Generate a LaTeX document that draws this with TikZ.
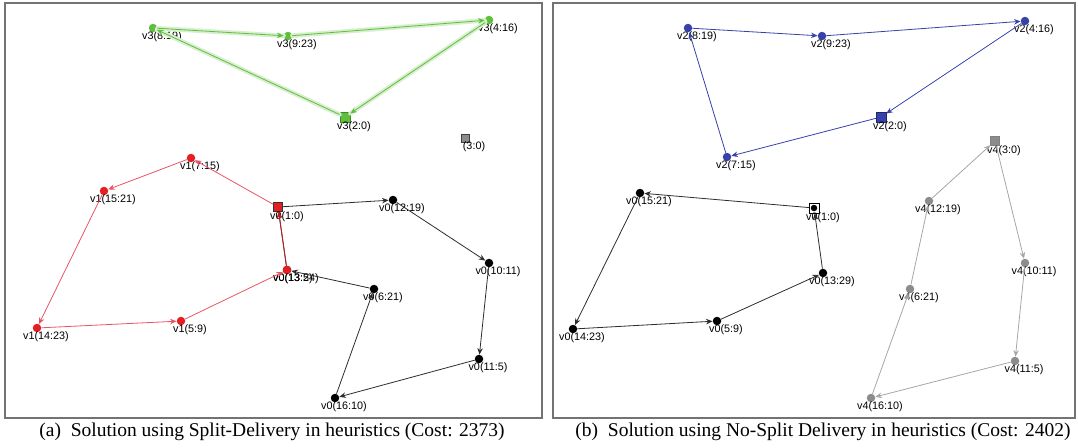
\documentclass[tikz,border=0pt]{standalone}
\usepackage{fontspec}
\setmainfont{Liberation Serif}
\newfontfamily\lblfont{Liberation Sans}
\usetikzlibrary{arrows.meta}

\definecolor{routegreen}{RGB}{95,190,60}
\definecolor{routered}{RGB}{228,30,35}
\definecolor{routepink}{RGB}{232,85,100}
\definecolor{routeblue}{RGB}{55,65,170}
\definecolor{routegray}{RGB}{140,140,140}
\definecolor{routedark}{RGB}{45,45,45}

\tikzstyle{cust} = [circle, fill, inner sep=0pt, minimum size=8.5pt]
\tikzstyle{depot} = [rectangle, draw, inner sep=0pt, minimum size=9pt]
\tikzstyle{lbl} = [font=\lblfont\fontsize{10.8}{12}\selectfont, text=black, inner sep=1pt, xshift=9pt]
\tikzstyle{line} = [-{Stealth[length=6.5pt,width=5.5pt]}, line width=0.8pt]
\tikzstyle{halo} = [draw=routegreen!25, line width=4.5pt, line cap=round]
\tikzstyle{frame} = [draw=black!55, line width=1.2pt]
\tikzstyle{caption} = [font=\fontsize{19.5}{22}\selectfont]

\begin{document}
\begin{tikzpicture}[x=1pt, y=-1pt, label distance=-1.5pt, every label/.style={lbl}]

    \useasboundingbox (0,0) rectangle (1078,447);

    % panels
    \draw[frame] (5,3) rectangle (542,418);
    \draw[frame] (553,3) rectangle (1075,418);

    %%% (a) split delivery

    % depots
    \node [depot, fill=routegreen, draw=routegreen!70!black, minimum size=10.5pt,
            label=below:v3(2:0)] (a2) at (345,117) {};
    \node [depot, fill=black!45, draw=black!75, minimum size=8pt,
            label=below:(3:0)] (a3) at (465,138) {};
    \node [depot, fill=routered, draw=black!80,
            label=below:v0(1:0)] (a1) at (278,207) {};

    % vehicle v3
    \node [cust, routegreen, label=below:v3(8:19)] (a8) at (153,28) {};
    \node [cust, routegreen, label=below:v3(9:23)] (a9) at (288,36) {};
    \node [cust, routegreen, label=below:v3(4:16)] (a4) at (489,20) {};

    % vehicle v0
    \node [cust, black, label=below:v0(12:19)] (a12) at (393,200) {};
    \node [cust, black, label=below:v0(10:11)] (a10) at (489,263) {};
    \node [cust, black, label=below:v0(11:5)] (a11) at (479,359) {};
    \node [cust, black, label=below:v0(16:10)] (a16) at (335,398) {};
    \node [cust, black, label=below:v0(6:21)] (a6) at (374,289) {};
    \node [cust, black, label=below:v0(13:24)] (a13k) at (287,270) {};

    % vehicle v1 (shares customer 13 with v0, both labels start at the same x)
    \node [cust, routered, label=below:v1(7:15)] (a7) at (191,158) {};
    \node [cust, routered, label=below:v1(15:21)] (a15) at (104,191) {};
    \node [cust, routered, label=below:v1(14:23)] (a14) at (37,328) {};
    \node [cust, routered, label=below:v1(5:9)] (a5) at (181,321) {};
    \node [cust, routered, label={[xshift=-3pt]below:v0(13:5)}] (a13) at (287,270) {};

    % routes
    \path[halo] (a2) edge (a8) (a8) edge (a9) (a9) edge (a4) (a4) edge (a2);
    \path[line, routegreen] (a2) edge (a8) (a8) edge (a9) (a9) edge (a4) (a4) edge (a2);
    \path[line, routedark] (a1) edge (a12) (a12) edge (a10) (a10) edge (a11)
        (a11) edge (a16) (a16) edge (a6) (a6) edge (a13k) (a13k) edge (a1);
    \path[line, routepink] (a1) edge (a7) (a7) edge (a15) (a15) edge (a14)
        (a14) edge (a5) (a5) edge (a13);
    \path[line, routered!85!black] (a13) edge (a1);

    %%% (b) no split delivery

    % depots
    \node [depot, fill=routeblue, draw=routeblue!60!black, minimum size=10pt,
            label=below:v2(2:0)] (b2) at (881,117) {};
    \node [depot, fill=routegray, draw=black!50,
            label=below:v4(3:0)] (b3) at (995,141) {};
    \node [depot, fill=white, draw=black, minimum size=10pt,
            label=below:v0(1:0)] (b1) at (814,208) {};
    \node [cust, black, minimum size=6.5pt] (b1dot) at (b1) {};

    % vehicle v2
    \node [cust, routeblue, label=below:v2(8:19)] (b8) at (688,28) {};
    \node [cust, routeblue, label=below:v2(9:23)] (b9) at (822,36) {};
    \node [cust, routeblue, label=below:v2(4:16)] (b4) at (1025,21) {};
    \node [cust, routeblue, label=below:v2(7:15)] (b7) at (727,157) {};

    % vehicle v0
    \node [cust, black, label=below:v0(15:21)] (b15) at (640,193) {};
    \node [cust, black, label=below:v0(14:23)] (b14) at (573,329) {};
    \node [cust, black, label=below:v0(5:9)] (b5) at (717,321) {};
    \node [cust, black, label=below:v0(13:29)] (b13) at (823,273) {};

    % vehicle v4
    \node [cust, routegray, label=below:v4(12:19)] (b12) at (929,201) {};
    \node [cust, routegray, label=below:v4(6:21)] (b6) at (910,289) {};
    \node [cust, routegray, label=below:v4(16:10)] (b16) at (871,398) {};
    \node [cust, routegray, label=below:v4(11:5)] (b11) at (1015,361) {};
    \node [cust, routegray, label=below:v4(10:11)] (b10) at (1025,263) {};

    % routes
    \path[line, routeblue] (b2) edge (b7) (b7) edge (b8) (b8) edge (b9)
        (b9) edge (b4) (b4) edge (b2);
    \path[line, routedark] (b1) edge (b15) (b15) edge (b14) (b14) edge (b5)
        (b5) edge (b13) (b13) edge (b1);
    \path[line, black!35] (b3) edge (b10) (b10) edge (b11) (b11) edge (b16)
        (b16) edge (b6) (b6) edge (b12) (b12) edge (b3);

    % captions
    \node [caption] (capa) at (272,432) {(a)\enspace Solution using Split-Delivery in heuristics (Cost: 2373)};
    \node [caption] (capb) at (823,432) {(b)\enspace Solution using No-Split Delivery in heuristics (Cost: 2402)};

\end{tikzpicture}
\end{document}
